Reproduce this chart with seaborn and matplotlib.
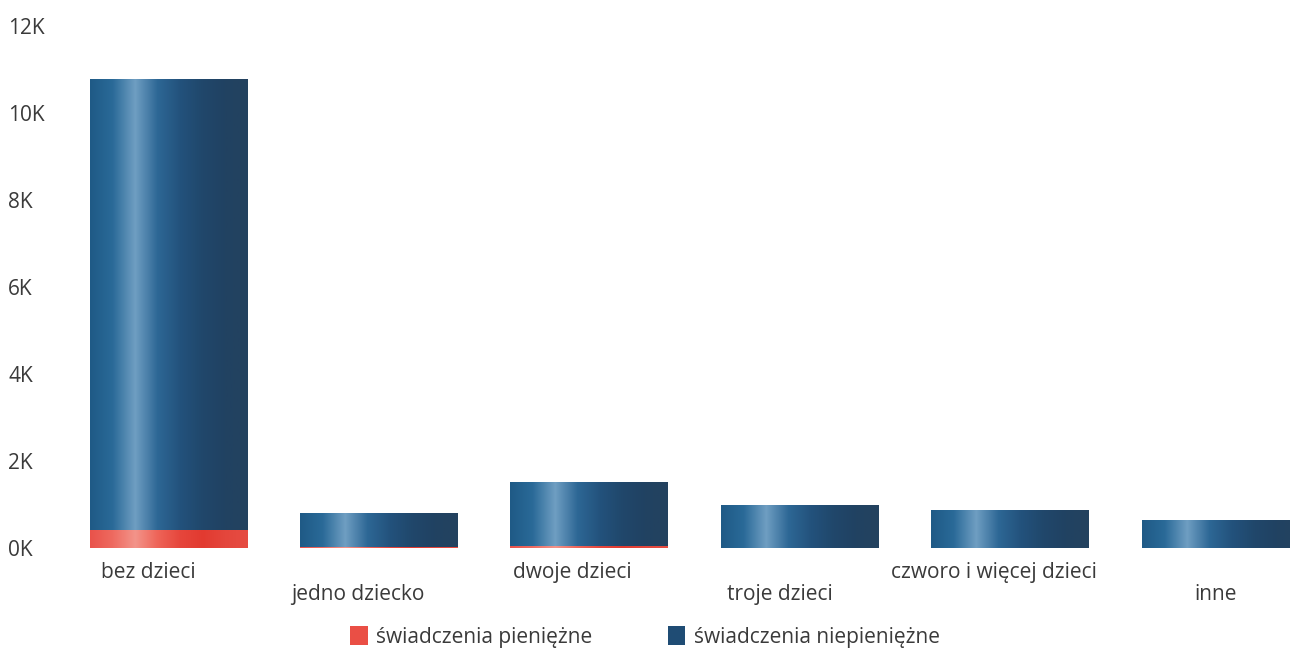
import numpy as np
import pandas as pd
import matplotlib
matplotlib.use('Agg')
import matplotlib.pyplot as plt
import matplotlib.transforms as mtransforms
from matplotlib.colors import LinearSegmentedColormap
from matplotlib.patches import Patch
import seaborn as sns

# ── Data ─────────────────────────────────────────────────────────────
categories = ['bez dzieci', 'jedno dziecko', 'dwoje dzieci', 'troje dzieci',
              'czworo i więcej dzieci', 'inne']
cash = [420, 30, 40, 8, 5, 5]                 # świadczenia pieniężne
non_cash = [10360, 770, 1480, 980, 865, 635]  # świadczenia niepieniężne
series_labels = ['świadczenia pieniężne', 'świadczenia niepieniężne']

df = pd.DataFrame({'kategoria': categories, 'cash': cash, 'non_cash': non_cash})
df['total'] = df['cash'] + df['non_cash']

sns.set_theme(style='white')
plt.rcParams['font.family'] = ['Open Sans', 'DejaVu Sans']

text_color = '#3a3a3a'
blue = '#1f5880'
red = '#e8483e'

blue_cmap = LinearSegmentedColormap.from_list(
    'blue_cyl', ['#1f5a86', '#2a6a98', '#6f9ec2', '#2d6795', '#23527c',
                 '#20476b', '#214262', '#24425f'])
red_cmap = LinearSegmentedColormap.from_list(
    'red_cyl', ['#e9524a', '#ee6a60', '#f3948a', '#ee6458', '#e6463c',
                '#e23a30', '#e4463c', '#e64c42'])

fig = plt.figure(figsize=(12.9, 6.5), dpi=100)
ax = fig.add_axes([0.049, 0.157, 0.951, 0.803])

# total bar (blue) then cash bar (red) on top of it, from the bottom
sns.barplot(data=df, x='kategoria', y='total', color=blue, width=0.75,
            saturation=1, ax=ax)
n = len(categories)
sns.barplot(data=df, x='kategoria', y='cash', color=red, width=0.75,
            saturation=1, ax=ax)

# cylinder-like shading clipped to each bar
grad = np.linspace(0, 1, 256).reshape(1, -1)
for i, p in enumerate(ax.patches):
    cmap = blue_cmap if i < n else red_cmap
    x0, y0 = p.get_x(), p.get_y()
    w, h = p.get_width(), p.get_height()
    if h <= 0:
        continue
    im = ax.imshow(grad, cmap=cmap, aspect='auto',
                   extent=[x0, x0 + w, y0, y0 + h], zorder=p.get_zorder() + 0.1 + (i >= n))
    im.set_clip_path(p)

ax.set_xlim(-0.5, 5.33)
ax.set_ylim(0, 12000)
ax.set_yticks(np.arange(0, 12001, 2000))
ax.set_yticklabels([f'{int(v / 1000)}K' for v in np.arange(0, 12001, 2000)])
ax.set_xlabel('')
ax.set_ylabel('')
for s in ax.spines.values():
    s.set_visible(False)
ax.tick_params(axis='y', length=0, pad=18, labelsize=15, labelcolor=text_color)
ax.tick_params(axis='x', length=0, pad=10, labelsize=15, labelcolor=text_color)
for lab in ax.get_yticklabels():
    lab.set_horizontalalignment('left')
    lab.set_transform(lab.get_transform() + mtransforms.ScaledTranslation(-0.30, 0, fig.dpi_scale_trans))

# alternate the x labels on two rows, slightly left of the bar centres
label_dx = [-0.20, -0.21, -0.17, -0.20, -0.16, -0.05]
for i, lab in enumerate(ax.get_xticklabels()):
    dy = -0.22 if i % 2 == 1 else 0
    lab.set_transform(lab.get_transform() +
                      mtransforms.ScaledTranslation(label_dx[i], dy, fig.dpi_scale_trans))

handles = [Patch(facecolor='#ea4f45', edgecolor='none'),
           Patch(facecolor='#1f4c74', edgecolor='none')]
fig.legend(handles, series_labels, loc='center', bbox_to_anchor=(0.5, 0.02),
           ncol=2, frameon=False, fontsize=15, handlelength=0.85, handleheight=1.0,
           handletextpad=0.4, columnspacing=3.6, labelcolor=text_color)

plt.savefig('out.png', dpi=100)
